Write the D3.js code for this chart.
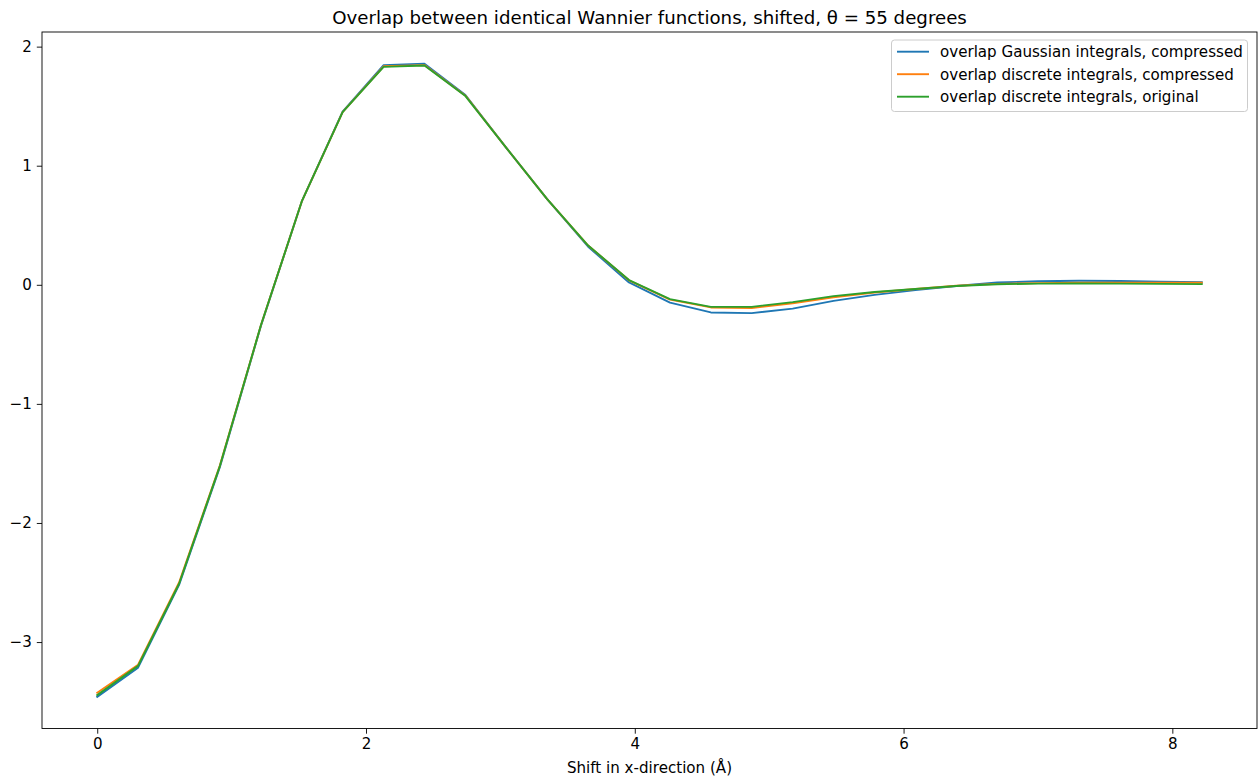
<!DOCTYPE html>
<html>
<head>
<meta charset="utf-8">
<script src="https://cdn.jsdelivr.net/npm/d3@7"></script>
<style>
  html, body { margin: 0; padding: 0; background: #fff; }
  svg { display: block; font-family: "DejaVu Sans", sans-serif; }
</style>
</head>
<body>
<svg id="chart" width="1258" height="780"></svg>
<script>
// ---- data ----
const shifts = [0, 0.304, 0.609, 0.913, 1.218, 1.522, 1.826, 2.131, 2.435, 2.740, 3.044, 3.348, 3.653, 3.957,
                4.262, 4.566, 4.870, 5.175, 5.479, 5.784, 6.088, 6.392, 6.697, 7.001, 7.306, 7.610, 7.914, 8.219];
const gaussCompressed = [-3.46, -3.215, -2.52, -1.53, -0.345, 0.70, 1.455, 1.845, 1.857, 1.594, 1.15, 0.72, 0.32, 0.02,
                         -0.15, -0.232, -0.238, -0.20, -0.135, -0.085, -0.045, -0.01, 0.019, 0.030, 0.034, 0.032, 0.027, 0.022];
const discreteCompressed = [-3.425, -3.19, -2.50, -1.515, -0.34, 0.70, 1.45, 1.835, 1.845, 1.588, 1.15, 0.72, 0.33, 0.038,
                            -0.125, -0.19, -0.195, -0.155, -0.105, -0.065, -0.035, -0.008, 0.008, 0.014, 0.017, 0.018, 0.017, 0.017];
const discreteOriginal = [-3.445, -3.20, -2.51, -1.52, -0.34, 0.70, 1.45, 1.83, 1.842, 1.585, 1.15, 0.72, 0.33, 0.04,
                          -0.12, -0.185, -0.185, -0.145, -0.095, -0.06, -0.035, -0.01, 0.005, 0.01, 0.011, 0.01, 0.008, 0.006];
const seriesNames = ["overlap Gaussian integrals, compressed", "overlap discrete integrals, compressed", "overlap discrete integrals, original"];
const seriesColors = ["#1f77b4", "#ff7f0e", "#2ca02c"];
const xTicks = [0, 2, 4, 6, 8];
const yTicks = [-3, -2, -1, 0, 1, 2];
const titleText = "Overlap between identical Wannier functions, shifted, θ = 55 degrees";
const xLabelText = "Shift in x-direction (Å)";

// ---- layout ----
const svg = d3.select("#chart");
const L = 42, R = 1257, T = 32, B = 728.5;
const FS = "15.1px";
const LW = 1.9;
const allSeries = [gaussCompressed, discreteCompressed, discreteOriginal];

const xExt = d3.extent(shifts);
const xSpan = xExt[1] - xExt[0];
const x = d3.scaleLinear().domain([xExt[0] - 0.05 * xSpan, xExt[1] + 0.05 * xSpan]).range([L, R]);
const yExt = d3.extent(allSeries.flat());
const ySpan = yExt[1] - yExt[0];
const y = d3.scaleLinear().domain([yExt[0] - 0.05 * ySpan, yExt[1] + 0.05 * ySpan]).range([B, T]);

const fmt = d => (d < 0 ? "\u2212" + Math.abs(d) : String(d));

// axes
const xAxis = svg.append("g").attr("transform", `translate(0,${B})`)
  .call(d3.axisBottom(x).tickValues(xTicks).tickFormat(fmt).tickSize(5.2).tickPadding(5).tickSizeOuter(0));
const yAxis = svg.append("g").attr("transform", `translate(${L},0)`)
  .call(d3.axisLeft(y).tickValues(yTicks).tickFormat(fmt).tickSize(5.2).tickPadding(5).tickSizeOuter(0));
[xAxis, yAxis].forEach(g => {
  g.select(".domain").remove();
  g.selectAll(".tick line").attr("stroke", "#000").attr("stroke-width", 0.9);
  g.selectAll(".tick text").attr("fill", "#000").style("font-size", FS).style("font-family", "DejaVu Sans");
});

// lines
const line = d3.line().x((d, i) => x(shifts[i])).y(d => y(d));
allSeries.forEach((s, k) => {
  svg.append("path").datum(s).attr("d", line)
    .attr("fill", "none").attr("stroke", seriesColors[k]).attr("stroke-width", LW)
    .attr("stroke-linejoin", "round").attr("stroke-linecap", "square");
});

// frame
svg.append("rect").attr("x", L).attr("y", T).attr("width", R - L).attr("height", B - T)
  .attr("fill", "none").attr("stroke", "#000").attr("stroke-width", 0.9);

// title & label
svg.append("text").attr("x", (L + R) / 2).attr("y", T - 8.5).attr("text-anchor", "middle")
  .style("font-size", "18.2px").attr("fill", "#000").text(titleText);
svg.append("text").attr("x", (L + R) / 2).attr("y", 772.5).attr("text-anchor", "middle")
  .style("font-size", FS).attr("fill", "#000").text(xLabelText);

// legend
const lg = svg.append("g");
lg.append("rect").attr("x", 891.5).attr("y", 40).attr("width", 356).attr("height", 71.5)
  .attr("rx", 3).attr("fill", "#fff").attr("fill-opacity", 0.8)
  .attr("stroke", "#ccc").attr("stroke-width", 1);
seriesNames.forEach((n, k) => {
  const yy = 51.7 + k * 22.5;
  lg.append("line").attr("x1", 897).attr("x2", 929).attr("y1", yy).attr("y2", yy)
    .attr("stroke", seriesColors[k]).attr("stroke-width", LW);
  lg.append("text").attr("x", 940).attr("y", yy + 5.5).style("font-size", FS)
    .attr("fill", "#000").text(n);
});
</script>
</body>
</html>
